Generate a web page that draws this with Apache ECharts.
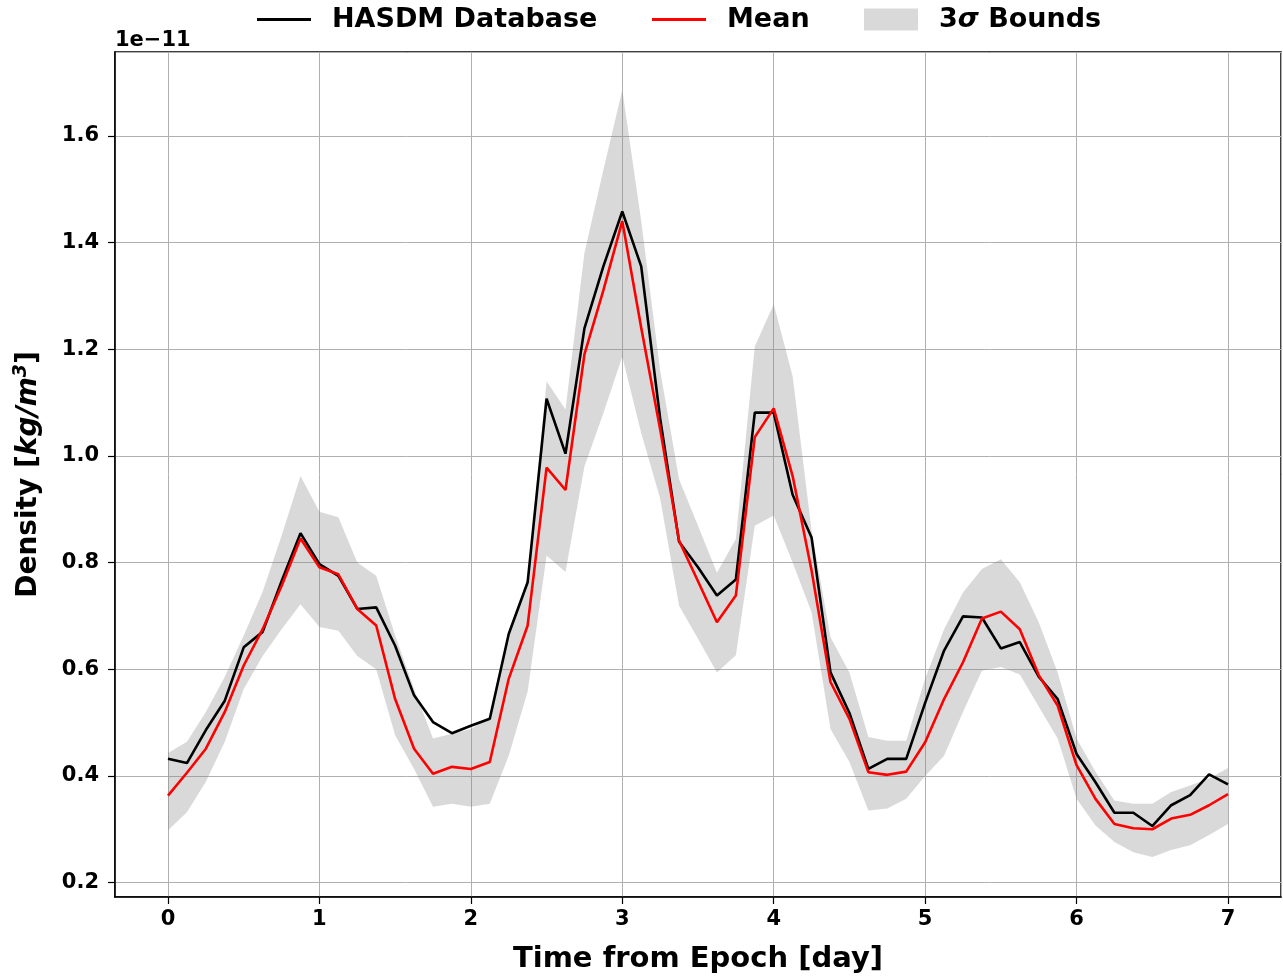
<!DOCTYPE html>
<html>
<head>
<meta charset="utf-8">
<script src="https://cdn.jsdelivr.net/npm/echarts@6/dist/echarts.min.js"></script>
<style>html,body{margin:0;padding:0;background:#fff;}#c{width:1283px;height:980px;}</style>
</head>
<body>
<div id="c"></div>
<script>
// Time from epoch [day]
const days = [0,0.125,0.25,0.375,0.5,0.625,0.75,0.875,1,1.125,1.25,1.375,1.5,1.625,1.75,1.875,2,2.125,2.25,2.375,2.5,2.625,2.75,2.875,3,3.125,3.25,3.375,3.5,3.625,3.75,3.875,4,4.125,4.25,4.375,4.5,4.625,4.75,4.875,5,5.125,5.25,5.375,5.5,5.625,5.75,5.875,6,6.125,6.25,6.375,6.5,6.625,6.75,6.875,7];
// Density, units of 1e-11 kg/m^3
const hasdm = [0.432,0.424,0.486,0.541,0.641,0.670,0.765,0.855,0.797,0.775,
  0.713,0.716,0.644,0.551,0.501,0.480,0.494,0.507,0.666,0.763,
  1.107,1.004,1.239,1.355,1.458,1.355,1.070,0.839,0.791,0.738,
  0.768,1.081,1.081,0.927,0.847,0.594,0.518,0.413,0.432,0.432,
  0.537,0.635,0.699,0.697,0.639,0.651,0.586,0.544,0.441,0.388,
  0.331,0.331,0.306,0.345,0.364,0.403,0.384];
const meanVals = [0.363,0.406,0.451,0.520,0.607,0.675,0.756,0.845,0.791,0.778,
  0.713,0.682,0.544,0.451,0.404,0.417,0.413,0.426,0.582,0.682,
  0.978,0.936,1.190,1.310,1.440,1.240,1.050,0.841,0.765,0.688,
  0.738,1.035,1.089,0.962,0.785,0.576,0.507,0.407,0.402,0.408,
  0.463,0.544,0.613,0.695,0.708,0.675,0.589,0.532,0.420,0.357,
  0.310,0.302,0.300,0.320,0.327,0.345,0.366];
const upperBound = [0.443,0.464,0.520,0.586,0.663,0.745,0.850,0.962,0.895,0.885,
  0.800,0.775,0.663,0.563,0.470,0.479,0.488,0.510,0.672,0.769,
  1.140,1.087,1.380,1.536,1.686,1.440,1.160,0.956,0.869,0.781,
  0.844,1.205,1.284,1.149,0.860,0.660,0.594,0.473,0.466,0.466,
  0.582,0.675,0.744,0.788,0.806,0.763,0.688,0.594,0.470,0.408,
  0.354,0.348,0.348,0.370,0.382,0.395,0.415];
const lowerBound = [0.298,0.332,0.389,0.464,0.563,0.625,0.675,0.722,0.679,0.672,
  0.625,0.600,0.476,0.413,0.342,0.348,0.342,0.348,0.438,0.558,
  0.813,0.782,0.980,1.080,1.186,1.043,0.920,0.719,0.657,0.594,
  0.626,0.869,0.888,0.800,0.707,0.488,0.426,0.335,0.339,0.357,
  0.400,0.438,0.520,0.597,0.604,0.590,0.530,0.470,0.357,0.307,
  0.276,0.257,0.248,0.261,0.270,0.289,0.310];

const FONT = 'DejaVu Sans';
const pairs = arr => days.map((t, i) => [t, arr[i]]);
const bandData = days.map((t, i) => [t, lowerBound[i], upperBound[i]]);
const BAND = 'rgba(128,128,128,0.3)';

const chart = echarts.init(document.getElementById('c'), null, {renderer: 'canvas'});
const legendText = {fontFamily: FONT, fontWeight: 'bold', fontSize: 27, color: '#000', padding: [0, 0, 0, 16]};
chart.setOption({
  animation: false,
  backgroundColor: '#fff',
  grid: {left: 115, top: 52, right: 2, bottom: 83, show: true, borderColor: '#000', borderWidth: 1.5, backgroundColor: 'transparent'},
  legend: [
    {data: ['HASDM Database'], left: 257, top: 6, padding: 0, icon: 'rect', itemWidth: 54, itemHeight: 3, textStyle: legendText},
    {data: ['Mean'], left: 652, top: 6, padding: 0, icon: 'rect', itemWidth: 54, itemHeight: 3, textStyle: legendText},
    {data: ['3σ Bounds'], left: 864, top: 6, padding: 0, icon: 'rect', itemWidth: 54, itemHeight: 22,
     formatter: () => '3{i|σ} Bounds',
     textStyle: Object.assign({}, legendText, {rich: {i: {fontFamily: FONT, fontWeight: 'bold', fontStyle: 'italic', fontSize: 27, color: '#000'}}})}
  ],
  xAxis: {
    type: 'value', min: -0.35, max: 7.35, splitNumber: 8,
    name: 'Time from Epoch [day]', nameLocation: 'middle', nameGap: 48,
    nameTextStyle: {fontFamily: FONT, fontWeight: 'bold', fontSize: 29, color: '#000'},
    axisLine: {show: true, onZero: false, lineStyle: {color: '#000', width: 1.5}},
    axisTick: {show: true, length: 7, lineStyle: {color: '#000', width: 1.2}},
    axisLabel: {showMinLabel: false, showMaxLabel: false, margin: 12, fontFamily: FONT, fontWeight: 'bold', fontSize: 21, color: '#000'},
    splitLine: {show: true, lineStyle: {color: '#b0b0b0', width: 1}}
  },
  yAxis: {
    type: 'value', min: 0.173, max: 1.757, splitNumber: 8,
    name: '{a|Density [}{b|kg/m}{s|3}{a|]}', nameLocation: 'middle', nameGap: 70,
    nameTextStyle: {rich: {
      a: {fontFamily: FONT, fontWeight: 'bold', fontSize: 28, color: '#000'},
      b: {fontFamily: FONT, fontWeight: 'bold', fontStyle: 'italic', fontSize: 28, color: '#000'},
      s: {fontFamily: FONT, fontWeight: 'bold', fontStyle: 'italic', fontSize: 19, color: '#000', padding: [0, 0, 14, 0]}
    }},
    axisLine: {show: true, onZero: false, lineStyle: {color: '#000', width: 1.5}},
    axisTick: {show: true, length: 7, lineStyle: {color: '#000', width: 1.2}},
    axisLabel: {showMinLabel: false, showMaxLabel: false, margin: 16, fontFamily: FONT, fontWeight: 'bold', fontSize: 21, color: '#000',
      formatter: v => v.toFixed(1)},
    splitLine: {show: true, lineStyle: {color: '#b0b0b0', width: 1}}
  },
  graphic: [{type: 'text', left: 115, top: 30, style: {text: '1e\u221211', fontFamily: FONT, fontWeight: 'bold', fontSize: 21, fill: '#000'}}],
  series: [
    {name: '3σ Bounds', type: 'custom', data: bandData, silent: true, z: 1,
     itemStyle: {color: BAND},
     encode: {x: 0, y: [1, 2]},
     renderItem: function (params, api) {
       if (params.dataIndex !== 0) return null;
       const top = [], bot = [];
       for (let i = 0; i < bandData.length; i++) {
         top.push(api.coord([bandData[i][0], bandData[i][2]]));
         bot.push(api.coord([bandData[i][0], bandData[i][1]]));
       }
       const pts = top.concat(bot.reverse());
       return {type: 'polygon', shape: {points: pts}, style: {fill: BAND, stroke: 'none'},
         clipPath: {type: 'rect', shape: {x: params.coordSys.x, y: params.coordSys.y, width: params.coordSys.width, height: params.coordSys.height}}};
     }},
    {name: 'HASDM Database', type: 'line', data: pairs(hasdm), showSymbol: false, symbol: 'none',
     itemStyle: {color: '#000'}, lineStyle: {color: '#000', width: 2.6}, z: 3},
    {name: 'Mean', type: 'line', data: pairs(meanVals), showSymbol: false, symbol: 'none',
     itemStyle: {color: '#ff0000'}, lineStyle: {color: '#ff0000', width: 2.6}, z: 4}
  ]
});
</script>
</body>
</html>
